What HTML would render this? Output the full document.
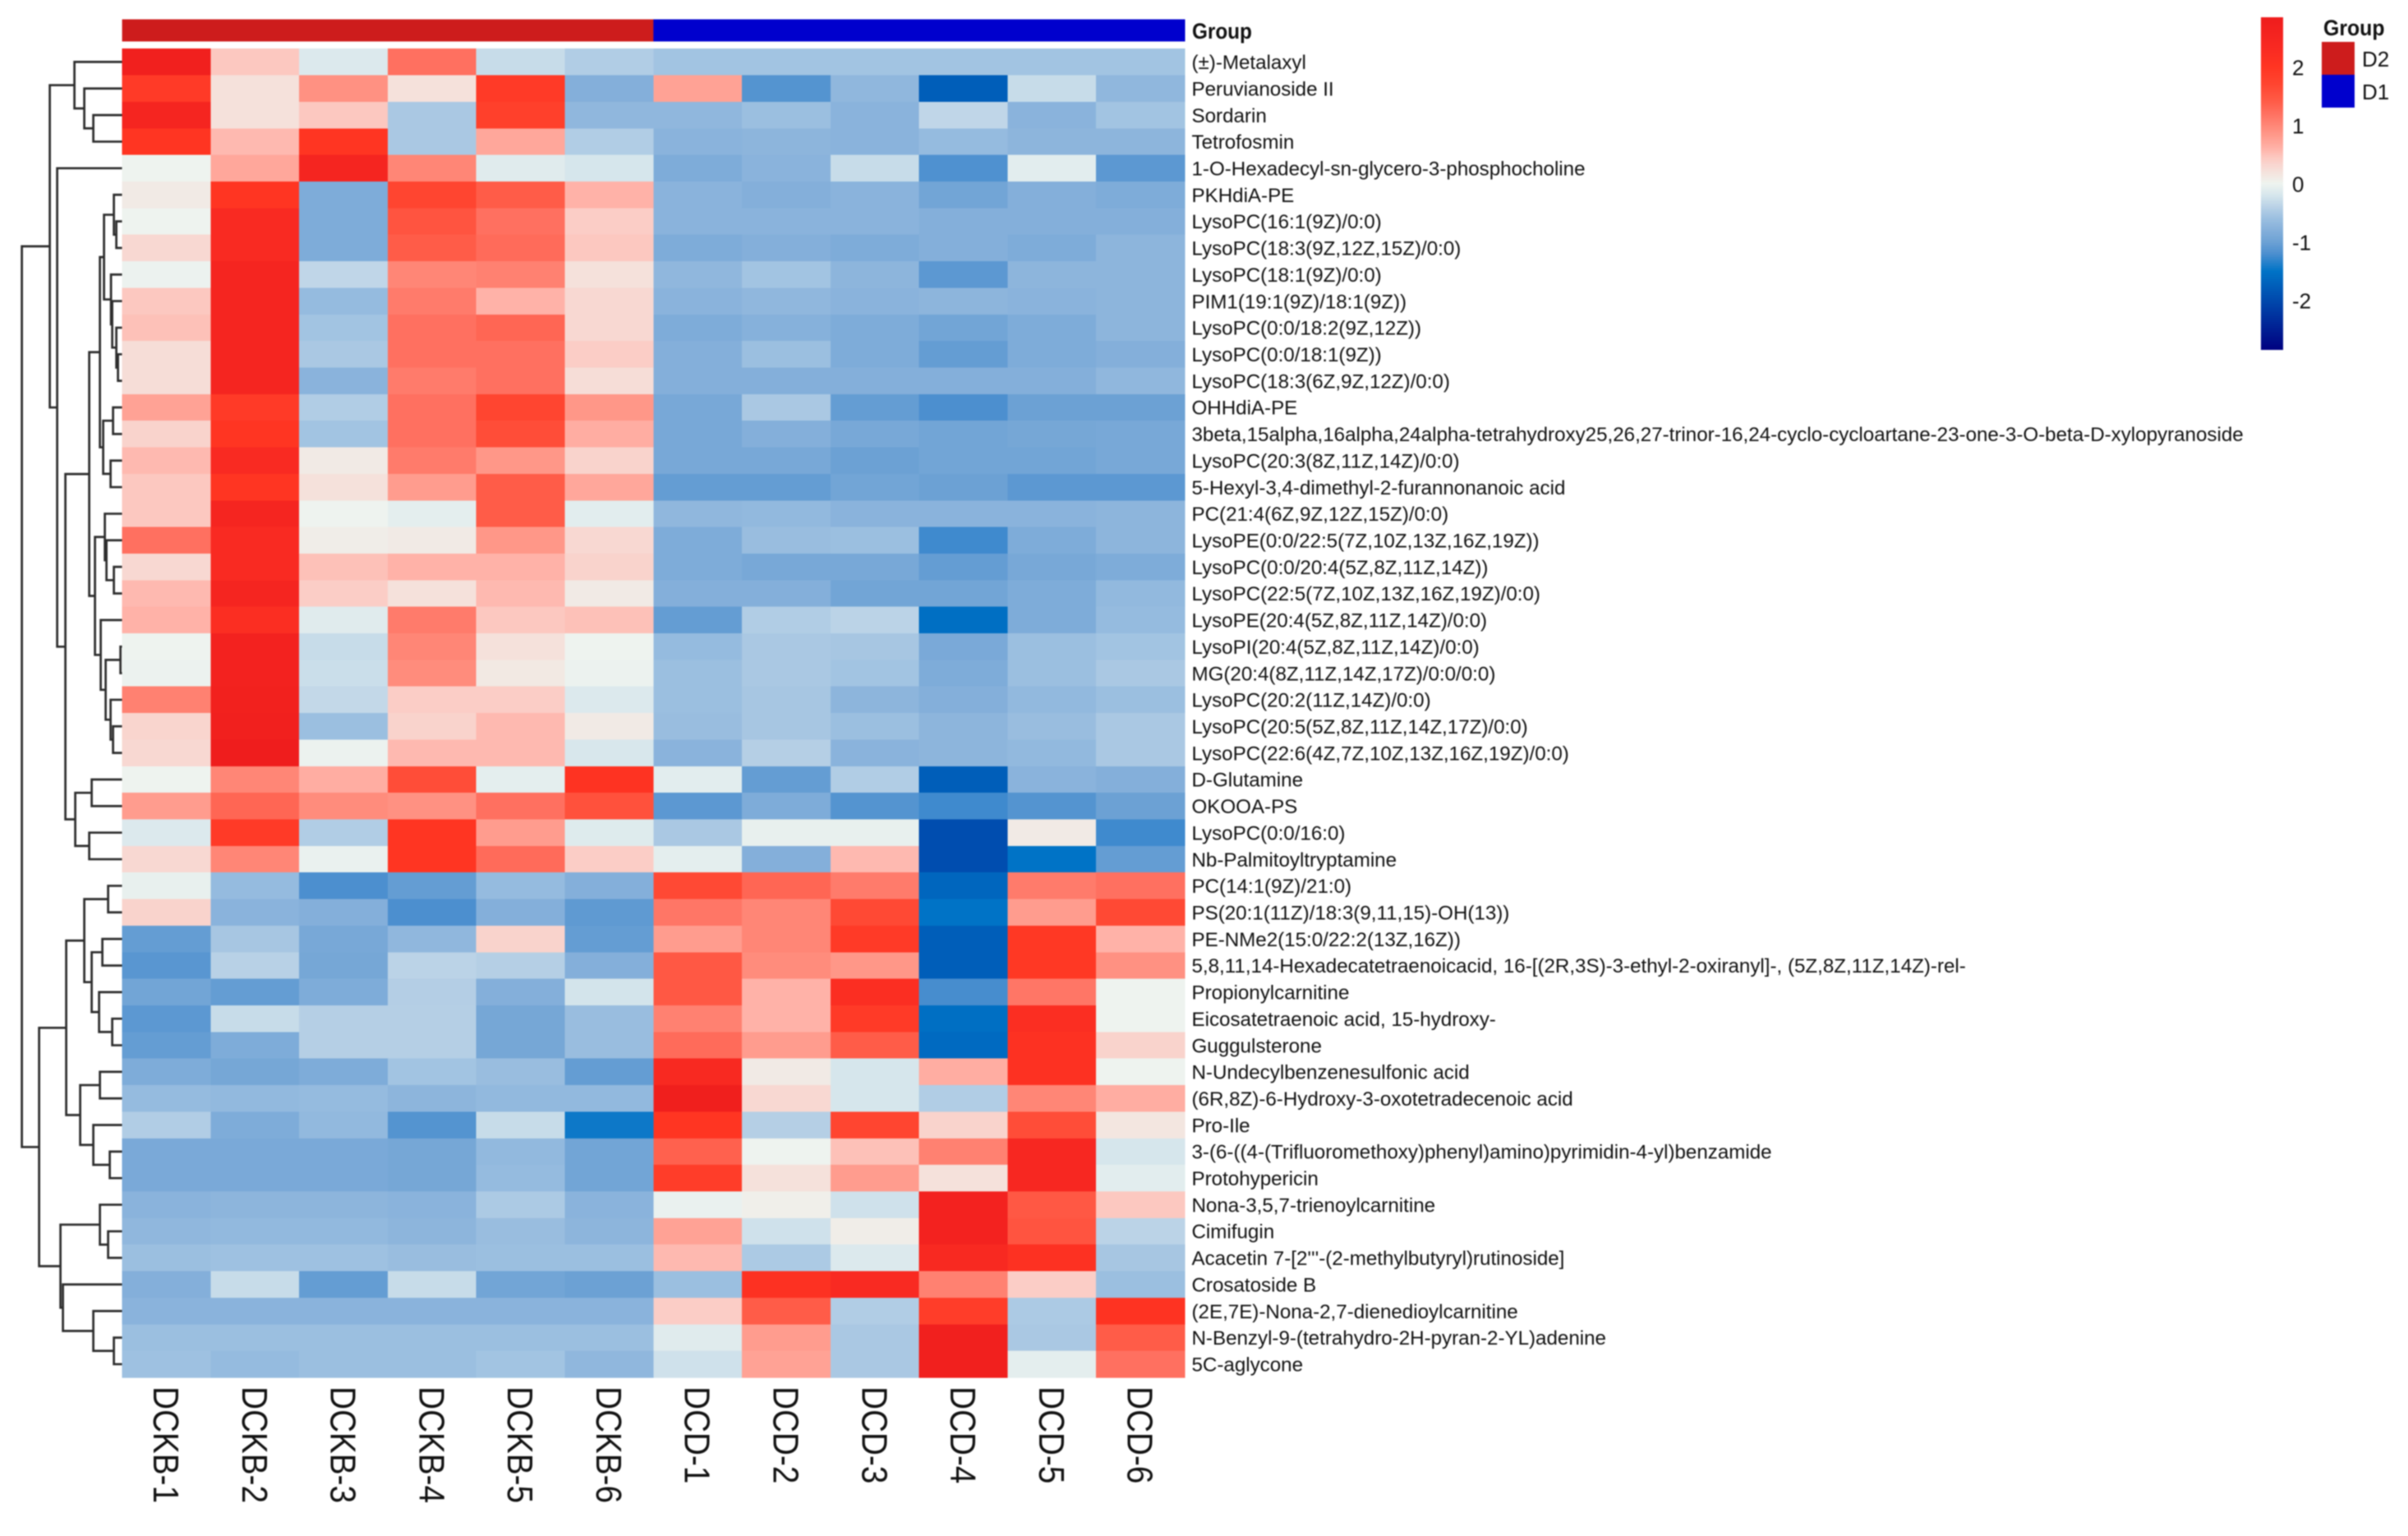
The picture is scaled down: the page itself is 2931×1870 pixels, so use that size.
<!DOCTYPE html>
<html lang="en">
<head>
<meta charset="utf-8">
<title>Metabolite clustered heatmap</title>
<style>
html,body{margin:0;padding:0;background:#fff;width:2931px;height:1870px;overflow:hidden}
svg{display:block;filter:blur(0.7px)}
text{font-family:"Liberation Sans",sans-serif;fill:#111}
</style>
</head>
<body>
<svg id="chart" xmlns="http://www.w3.org/2000/svg" width="2931" height="1870" viewBox="0 0 2931 1870">
  <rect x="0" y="0" width="2931" height="1870" fill="#fff"/>
  <g id="dendrogram" fill="none" stroke="#2c2c2c" stroke-width="2.7"></g>
  <g id="annotation"></g>
  <g id="cells" shape-rendering="crispEdges"></g>
  <g id="row-labels"></g>
  <g id="col-labels"></g>
  <text transform="translate(1451,47) scale(0.9,1)" font-size="27" font-weight="bold">Group</text>
  <defs><linearGradient id="cbar" x1="0" y1="0" x2="0" y2="1"></linearGradient></defs>
  <rect id="colorbar" x="2752" y="21" width="27" height="405" fill="url(#cbar)"/>
  <g id="colorbar-ticks"></g>
  <text transform="translate(2828,43) scale(0.92,1)" font-size="27" font-weight="bold">Group</text>
  <g id="legend"></g>
</svg>
<script>
const rowLabels = [
"(±)-Metalaxyl","Peruvianoside II","Sordarin","Tetrofosmin","1-O-Hexadecyl-sn-glycero-3-phosphocholine","PKHdiA-PE",
"LysoPC(16:1(9Z)/0:0)","LysoPC(18:3(9Z,12Z,15Z)/0:0)","LysoPC(18:1(9Z)/0:0)","PIM1(19:1(9Z)/18:1(9Z))","LysoPC(0:0/18:2(9Z,12Z))",
"LysoPC(0:0/18:1(9Z))","LysoPC(18:3(6Z,9Z,12Z)/0:0)","OHHdiA-PE",
"3beta,15alpha,16alpha,24alpha-tetrahydroxy25,26,27-trinor-16,24-cyclo-cycloartane-23-one-3-O-beta-D-xylopyranoside",
"LysoPC(20:3(8Z,11Z,14Z)/0:0)","5-Hexyl-3,4-dimethyl-2-furannonanoic acid","PC(21:4(6Z,9Z,12Z,15Z)/0:0)","LysoPE(0:0/22:5(7Z,10Z,13Z,16Z,19Z))",
"LysoPC(0:0/20:4(5Z,8Z,11Z,14Z))","LysoPC(22:5(7Z,10Z,13Z,16Z,19Z)/0:0)","LysoPE(20:4(5Z,8Z,11Z,14Z)/0:0)","LysoPI(20:4(5Z,8Z,11Z,14Z)/0:0)",
"MG(20:4(8Z,11Z,14Z,17Z)/0:0/0:0)","LysoPC(20:2(11Z,14Z)/0:0)","LysoPC(20:5(5Z,8Z,11Z,14Z,17Z)/0:0)","LysoPC(22:6(4Z,7Z,10Z,13Z,16Z,19Z)/0:0)",
"D-Glutamine","OKOOA-PS","LysoPC(0:0/16:0)","Nb-Palmitoyltryptamine","PC(14:1(9Z)/21:0)","PS(20:1(11Z)/18:3(9,11,15)-OH(13))","PE-NMe2(15:0/22:2(13Z,16Z))",
"5,8,11,14-Hexadecatetraenoicacid, 16-[(2R,3S)-3-ethyl-2-oxiranyl]-, (5Z,8Z,11Z,14Z)-rel-","Propionylcarnitine","Eicosatetraenoic acid, 15-hydroxy-","Guggulsterone",
"N-Undecylbenzenesulfonic acid","(6R,8Z)-6-Hydroxy-3-oxotetradecenoic acid","Pro-Ile","3-(6-((4-(Trifluoromethoxy)phenyl)amino)pyrimidin-4-yl)benzamide","Protohypericin",
"Nona-3,5,7-trienoylcarnitine","Cimifugin","Acacetin 7-[2'''-(2-methylbutyryl)rutinoside]","Crosatoside B","(2E,7E)-Nona-2,7-dienedioylcarnitine",
"N-Benzyl-9-(tetrahydro-2H-pyran-2-YL)adenine","5C-aglycone"];
const colLabels = ["DCKB-1","DCKB-2","DCKB-3","DCKB-4","DCKB-5","DCKB-6","DCD-1","DCD-2","DCD-3","DCD-4","DCD-5","DCD-6"];
const groupNames = ["D2","D1"];
const colGroups = ["D2","D2","D2","D2","D2","D2","D1","D1","D1","D1","D1","D1"];
const colorbarTicks = [2,1,0,-1,-2];
const values = [
[2.7,0.45,-0.15,1.2,-0.3,-0.45,-0.55,-0.55,-0.55,-0.55,-0.55,-0.55],
[1.9,0.2,0.9,0.2,1.9,-0.8,0.75,-1.15,-0.7,-1.75,-0.3,-0.7],
[2.5,0.2,0.45,-0.5,1.8,-0.7,-0.7,-0.6,-0.75,-0.35,-0.75,-0.55],
[2.0,0.55,2.0,-0.5,0.7,-0.45,-0.75,-0.72,-0.75,-0.65,-0.72,-0.72],
[0.0,0.7,2.5,1.0,-0.12,-0.2,-0.85,-0.75,-0.3,-1.18,-0.1,-1.1],
[0.1,2.0,-0.85,1.7,1.4,0.6,-0.75,-0.8,-0.75,-0.95,-0.8,-0.85],
[0.0,2.3,-0.85,1.5,1.2,0.4,-0.75,-0.75,-0.75,-0.8,-0.8,-0.8],
[0.3,2.3,-0.85,1.4,1.25,0.45,-0.85,-0.8,-0.85,-0.8,-0.85,-0.72],
[-0.02,2.5,-0.35,1.0,1.05,0.2,-0.7,-0.55,-0.72,-1.1,-0.72,-0.72],
[0.45,2.5,-0.65,1.1,0.6,0.3,-0.75,-0.7,-0.75,-0.72,-0.75,-0.72],
[0.5,2.5,-0.55,1.2,1.3,0.3,-0.85,-0.78,-0.85,-0.95,-0.85,-0.72],
[0.25,2.5,-0.5,1.2,1.2,0.4,-0.8,-0.6,-0.85,-1.05,-0.85,-0.8],
[0.25,2.5,-0.75,1.1,1.2,0.25,-0.8,-0.8,-0.8,-0.8,-0.8,-0.7],
[0.75,1.9,-0.45,1.2,1.7,0.85,-0.9,-0.5,-1.05,-1.2,-1.0,-1.0],
[0.35,2.0,-0.55,1.2,1.6,0.65,-0.9,-0.8,-0.9,-0.95,-0.92,-0.9],
[0.55,2.3,0.1,1.1,0.85,0.35,-0.9,-0.9,-1.0,-0.95,-0.95,-0.9],
[0.45,2.0,0.2,0.8,1.4,0.7,-1.05,-1.05,-0.95,-1.0,-1.1,-1.1],
[0.45,2.5,0.0,-0.08,1.4,-0.1,-0.7,-0.68,-0.75,-0.75,-0.75,-0.72],
[1.2,2.3,0.07,0.1,0.85,0.3,-0.85,-0.62,-0.6,-1.25,-0.85,-0.72],
[0.3,2.3,0.5,0.6,0.6,0.35,-0.85,-0.9,-0.9,-1.05,-0.9,-0.85],
[0.55,2.5,0.4,0.2,0.55,0.1,-0.8,-0.8,-0.95,-0.95,-0.85,-0.68],
[0.6,2.2,-0.12,1.1,0.45,0.5,-1.05,-0.45,-0.38,-1.55,-0.85,-0.65],
[0.0,2.6,-0.3,1.0,0.2,0.0,-0.65,-0.5,-0.52,-0.88,-0.6,-0.55],
[-0.02,2.6,-0.28,0.95,0.12,-0.02,-0.6,-0.5,-0.55,-0.85,-0.6,-0.5],
[1.05,2.65,-0.33,0.4,0.4,-0.15,-0.6,-0.52,-0.72,-0.8,-0.68,-0.6],
[0.33,2.7,-0.6,0.35,0.55,0.1,-0.62,-0.52,-0.6,-0.72,-0.62,-0.5],
[0.3,2.8,-0.02,0.55,0.55,-0.18,-0.75,-0.42,-0.75,-0.72,-0.68,-0.5],
[0.0,1.0,0.65,1.6,-0.08,2.05,-0.1,-1.05,-0.45,-1.75,-0.75,-0.8],
[0.8,1.3,0.95,0.9,1.2,1.55,-1.1,-0.85,-1.15,-1.25,-1.15,-1.0],
[-0.15,1.9,-0.45,2.0,0.8,-0.13,-0.5,-0.05,-0.05,-1.95,0.1,-1.25],
[0.3,1.0,-0.03,2.0,1.25,0.4,-0.08,-0.8,0.55,-1.95,-1.5,-1.05],
[-0.05,-0.65,-1.2,-1.05,-0.65,-0.8,1.65,1.3,1.1,-1.65,1.1,1.2],
[0.35,-0.75,-0.8,-1.2,-0.8,-1.08,1.15,1.0,1.65,-1.5,0.8,1.65],
[-1.05,-0.52,-0.9,-0.7,0.35,-1.05,0.8,1.0,1.9,-1.75,1.95,0.6],
[-1.12,-0.4,-0.92,-0.38,-0.42,-0.8,1.45,0.95,0.85,-1.75,1.95,0.9],
[-0.95,-1.05,-0.85,-0.43,-0.8,-0.22,1.45,0.6,2.2,-1.22,1.15,0.0],
[-1.1,-0.3,-0.42,-0.42,-0.92,-0.62,1.05,0.6,1.9,-1.55,2.2,0.0],
[-1.05,-0.85,-0.42,-0.42,-0.92,-0.62,1.25,0.8,1.4,-1.6,2.1,0.35],
[-0.85,-0.92,-0.85,-0.55,-0.62,-1.05,2.35,0.1,-0.2,0.65,2.1,0.0],
[-0.65,-0.68,-0.65,-0.72,-0.68,-0.68,2.75,0.3,-0.2,-0.45,1.0,0.65],
[-0.45,-0.85,-0.68,-1.15,-0.3,-1.45,2.0,-0.42,1.7,0.35,1.6,0.15],
[-0.88,-0.88,-0.88,-0.92,-0.68,-0.95,1.35,0.0,0.5,1.05,2.4,-0.2],
[-0.88,-0.88,-0.88,-0.92,-0.65,-0.95,1.85,0.2,0.8,0.2,2.4,-0.1],
[-0.75,-0.72,-0.72,-0.75,-0.48,-0.75,-0.03,0.05,-0.25,2.6,1.45,0.45],
[-0.7,-0.68,-0.68,-0.72,-0.62,-0.72,0.75,-0.25,0.07,2.6,1.5,-0.38],
[-0.6,-0.58,-0.58,-0.62,-0.6,-0.6,0.55,-0.48,-0.15,2.35,2.1,-0.52],
[-0.8,-0.3,-1.05,-0.3,-0.95,-1.0,-0.6,2.1,2.3,1.05,0.4,-0.6],
[-0.75,-0.75,-0.75,-0.75,-0.75,-0.75,0.4,1.4,-0.45,1.85,-0.48,2.05],
[-0.6,-0.6,-0.6,-0.6,-0.6,-0.6,-0.12,0.8,-0.5,2.7,-0.5,1.4],
[-0.58,-0.65,-0.6,-0.6,-0.55,-0.7,-0.25,0.75,-0.5,2.7,-0.08,1.2]
];
/* Row clustering tree: [merge height, child, child]; a number child is a 1-based row index. */
const rowTree = [12.2,
  [8.8,
    [5.8, 1, [4.6, 2, [3.5, 3, 4]]],
    [7.9, 5,
      [6.9,
        [4.0,
          [2.7,
            [2.2,
              [1.0, 6, [0.7, 7, 8]],
              [1.35, 9, [1.2, 10, [0.7, 11, [0.5, 12, 13]]]]
            ],
            [2.3, [1.1, 14, 15], [1.4, 16, 17]]
          ],
          [3.3,
            [2.1, 18, [1.9, 19, [1.0, 20, 21]]],
            [2.6, 22, [2.0, [0.2, 23, 24], [1.4, 25, [1.1, 26, 27]]]]
          ]
        ],
        [5.7, [3.7, 28, 29], [4.0, 30, 31]]
      ]
    ]
  ],
  [10.1,
    [6.8,
      [4.6,
        [1.7, 32, 33],
        [3.7, [2.4, 34, 35], [2.8, 36, [1.2, 37, 38]]]
      ],
      [5.1,
        [2.7, 39, 40],
        [3.5, 41, [1.5, 42, 43]]
      ]
    ],
    [7.5,
      [2.7, 44, [1.7, 45, 46]],
      [7.2, 47, [3.5, 48, [1.0, 49, 50]]]
    ]
  ]
];

const NS = "http://www.w3.org/2000/svg";
const plotLeft = 148.6, plotRight = 1442, plotTop = 59.2, plotBottom = 1677;
const colW = (plotRight - plotLeft) / colLabels.length;
const rowH = (plotBottom - plotTop) / rowLabels.length;
const xCol = c => plotLeft + c * colW;
const yRow = r => plotTop + r * rowH;
const xHeight = h => plotLeft - h * 10;
const yBar = v => 224 - 71 * v;
const groupColor = g => g === "D2" ? "#cd1c1c" : "#0000cd";

const colorStops = [
[-2.85,"#000080"],[-1.5,"#0073c6"],[-1.2,"#4c8fcf"],[-1.0,"#6ca1d4"],[-0.8,"#84afda"],[-0.6,"#9bbfe0"],
[-0.4,"#b8d1e6"],[-0.2,"#d6e6ec"],[0,"#eef3ef"],[0.15,"#f3e6e0"],[0.3,"#f8d8d2"],[0.45,"#fcc8c0"],[0.6,"#ffb2a8"],
[0.8,"#ff9c8e"],[1.0,"#ff8676"],[1.2,"#ff7060"],[1.4,"#ff5c48"],[1.7,"#ff4530"],[2.0,"#ff3522"],[2.3,"#f92a22"],[2.85,"#ee1c1c"]];
function hexRgb(h){return [1,3,5].map(i=>parseInt(h.substr(i,2),16));}
function colorOf(v){
  if(v<=colorStops[0][0]) return colorStops[0][1];
  for(let i=1;i<colorStops.length;i++){
    if(v<=colorStops[i][0]){
      const a=colorStops[i-1],b=colorStops[i],t=(v-a[0])/(b[0]-a[0]);
      const ca=hexRgb(a[1]),cb=hexRgb(b[1]);
      return "rgb("+ca.map((x,k)=>Math.round(x+(cb[k]-x)*t)).join(",")+")";
    }
  }
  return colorStops[colorStops.length-1][1];
}
function mk(tag,parent){const e=document.createElementNS(NS,tag);parent.appendChild(e);return e;}

/* Annotation bar */
const annG=document.getElementById("annotation");
colGroups.forEach((g,c)=>{
  const r=mk("rect",annG);
  
  
  r.setAttribute("x",xCol(c));r.setAttribute("y",23.5);
  r.setAttribute("width",colW+0.5);r.setAttribute("height",27);
  r.setAttribute("fill",groupColor(g));
});

/* Heatmap cells */
const cellsG=document.getElementById("cells");
values.forEach((row,r)=>{
  row.forEach((v,c)=>{
    const e=mk("rect",cellsG);
    
    
    e.setAttribute("x",xCol(c));e.setAttribute("y",yRow(r));
    e.setAttribute("width",colW+0.5);e.setAttribute("height",rowH+0.5);
    e.setAttribute("fill",colorOf(v));
  });
});

/* Row labels */
const rowG=document.getElementById("row-labels");
rowLabels.forEach((s,r)=>{
  const t=mk("text",rowG);
  
  
  t.setAttribute("x",1450.5);t.setAttribute("y",yRow(r)+rowH/2+8.7);
  t.setAttribute("font-size",24.15);
  t.textContent=s;
});

/* Column labels */
const colG=document.getElementById("col-labels");
colLabels.forEach((s,c)=>{
  const t=mk("text",colG);
  
  
  const cx=xCol(c)+colW/2+0.5;
  t.setAttribute("transform","translate("+(cx-16)+",1688) rotate(90) scale(0.88,1)");
  t.setAttribute("font-size",44);
  t.textContent=s;
});

/* Dendrogram */
const dG=document.getElementById("dendrogram");
function drawNode(n){
  if(typeof n==="number") return {x:xHeight(0),y:yRow(n-1)+rowH/2};
  const a=drawNode(n[1]),b=drawNode(n[2]),x=xHeight(n[0]);
  const p=mk("path",dG);
  
  
  p.setAttribute("d","M"+a.x+" "+a.y+"H"+x+"V"+b.y+"H"+b.x);
  return {x:x,y:(a.y+b.y)/2};
}
drawNode(rowTree);

/* Colorbar */
const grad=document.getElementById("cbar");
const vMax=colorStops[colorStops.length-1][0],vMin=colorStops[0][0];
colorStops.slice().reverse().forEach(s=>{
  const st=mk("stop",grad);
  st.setAttribute("offset",(vMax-s[0])/(vMax-vMin));
  st.setAttribute("stop-color",s[1]);
});
const tickG=document.getElementById("colorbar-ticks");
colorbarTicks.forEach(v=>{
  const t=mk("text",tickG);
  
  
  t.setAttribute("x",2790);t.setAttribute("y",yBar(v)+9.5);
  t.setAttribute("font-size",26);
  t.textContent=String(v);
});

/* Group legend */
const legG=document.getElementById("legend");
groupNames.forEach((g,i)=>{
  const r=mk("rect",legG);
  
  
  r.setAttribute("x",2826);r.setAttribute("y",51+i*40);
  r.setAttribute("width",40);r.setAttribute("height",40);
  r.setAttribute("fill",groupColor(g));
  const t=mk("text",legG);
  
  
  t.setAttribute("x",2875);t.setAttribute("y",81+i*40);
  t.setAttribute("font-size",26);
  t.textContent=g;
});
</script>
</body>
</html>
